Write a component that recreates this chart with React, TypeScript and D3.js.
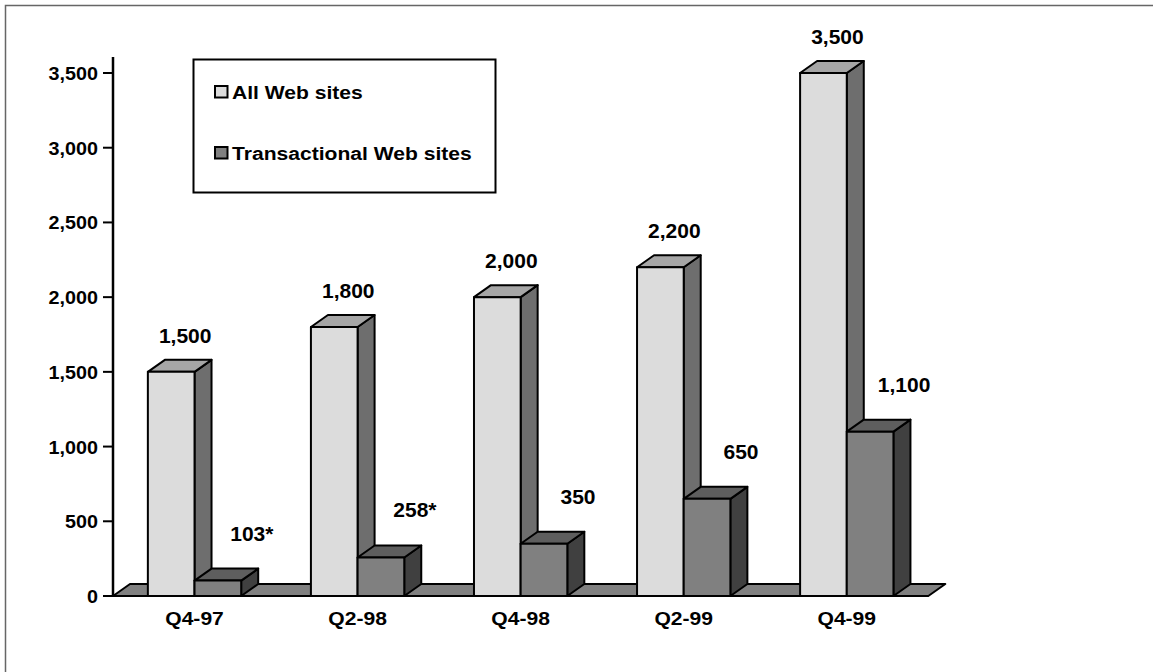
import React from 'react';
import * as d3 from 'd3';

// Web site counts per quarter
const categories = ['Q4-97', 'Q2-98', 'Q4-98', 'Q2-99', 'Q4-99'];
const seriesNames = ['All Web sites', 'Transactional Web sites'];
const allSites = [1500, 1800, 2000, 2200, 3500];
const transactionalSites = [103, 258, 350, 650, 1100];
const transactionalNotes = ['*', '*', '', '', ''];
const yTicks = [0, 500, 1000, 1500, 2000, 2500, 3000, 3500];

const W = 1153;
const H = 672;
const FONT = '"Liberation Sans", Arial, Helvetica, sans-serif';

// face shades per series: front, top, side
const shades = [
  { front: '#dcdcdc', top: '#a6a6a6', side: '#6e6e6e' },
  { front: '#808080', top: '#5e5e5e', side: '#404040' },
];

const DX = 17;
const DY = -12;

export default function App() {
  const x = d3.scaleBand<string>().domain(categories).range([113, 928.3]).padding(0);
  const inner = d3
    .scaleBand<string>()
    .domain(seriesNames)
    .range([0, x.bandwidth()])
    .paddingInner(0)
    .paddingOuter(0.747);
  const y = d3.scaleLinear().domain([0, 3500]).range([596, 73]);
  const base = y(0);
  const fmt = d3.format(',');

  const seriesValues = [allSites, transactionalSites];

  const bars: React.ReactNode[] = [];
  const labels: React.ReactNode[] = [];
  categories.forEach((c, ci) => {
    seriesNames.forEach((s, si) => {
      const v = seriesValues[si][ci];
      const x0 = (x(c) as number) + (inner(s) as number);
      const x1 = x0 + inner.bandwidth();
      const yt = y(v);
      const sh = shades[si];
      const top = `M${x0},${yt}L${x0 + DX},${yt + DY}L${x1 + DX},${yt + DY}L${x1},${yt}Z`;
      const side = `M${x1},${yt}L${x1 + DX},${yt + DY}L${x1 + DX},${base + DY}L${x1},${base}Z`;
      bars.push(
        <g key={`${c}-${s}`} stroke="#000" strokeWidth={2} strokeLinejoin="round">
          <path d={side} fill={sh.side} />
          <path d={top} fill={sh.top} />
          <rect x={x0} y={yt} width={x1 - x0} height={base - yt} fill={sh.front} />
        </g>
      );
      const cx = (x0 + x1) / 2;
      const text = si === 0 ? fmt(v) : fmt(v) + transactionalNotes[ci];
      const lx = si === 0 ? cx + 14 : cx + 34;
      const ly = si === 0 ? yt + DY - 17 : yt + DY - 28;
      labels.push(
        <text
          key={`l-${c}-${s}`}
          x={lx}
          y={ly}
          textAnchor="middle"
          fontFamily={FONT}
          fontWeight="bold"
          fontSize={21}
          fill="#000"
        >
          {text}
        </text>
      );
    });
  });

  const xr0 = 113;
  const xr1 = 928.3;
  const floor = `M${xr0},${base}L${xr0 + DX},${base + DY}L${xr1 + DX},${base + DY}L${xr1},${base}Z`;

  return (
    <svg
      width={W}
      height={H}
      viewBox={`0 0 ${W} ${H}`}
      style={{ position: 'absolute', left: 0, top: 0, background: '#fff' }}
    >
      <rect x={0} y={0} width={W} height={H} fill="#fff" />
      {/* outer frame */}
      <path d={`M5.5,${H}V5.5H${W}`} fill="none" stroke="#666" strokeWidth={1.5} />

      {/* floor */}
      <path d={floor} fill="#808080" stroke="#000" strokeWidth={2} strokeLinejoin="round" />

      {bars}

      {/* value axis */}
      <line x1={113} x2={113} y1={y(3500) + DY - 4} y2={base} stroke="#000" strokeWidth={2.5} />
      {yTicks.map((t) => (
        <g key={t}>
          <line x1={103} x2={113} y1={y(t)} y2={y(t)} stroke="#000" strokeWidth={2} />
          <text
            transform={`translate(98,${y(t) + 7}) scale(1.04,1)`}
            textAnchor="end"
            fontFamily={FONT}
            fontWeight="bold"
            fontSize={19}
          >
            {fmt(t)}
          </text>
        </g>
      ))}

      {/* category labels */}
      {categories.map((c) => (
        <text
          key={c}
          transform={`translate(${(x(c) as number) + x.bandwidth() / 2},625) scale(1.11,1)`}
          textAnchor="middle"
          fontFamily={FONT}
          fontWeight="bold"
          fontSize={19}
        >
          {c}
        </text>
      ))}

      {labels}

      {/* legend */}
      <rect x={193.5} y={59.5} width={302} height={133} fill="#fff" stroke="#000" strokeWidth={2} />
      {seriesNames.map((s, i) => (
        <g key={s}>
          <rect
            x={215}
            y={i === 0 ? 86 : 147}
            width={12.5}
            height={11.5}
            fill={shades[i].front}
            stroke="#000"
            strokeWidth={2}
          />
          <text
            transform={`translate(232,${i === 0 ? 98.5 : 160}) scale(1.11,1)`}
            fontFamily={FONT}
            fontWeight="bold"
            fontSize={19}
          >
            {s}
          </text>
        </g>
      ))}
    </svg>
  );
}
